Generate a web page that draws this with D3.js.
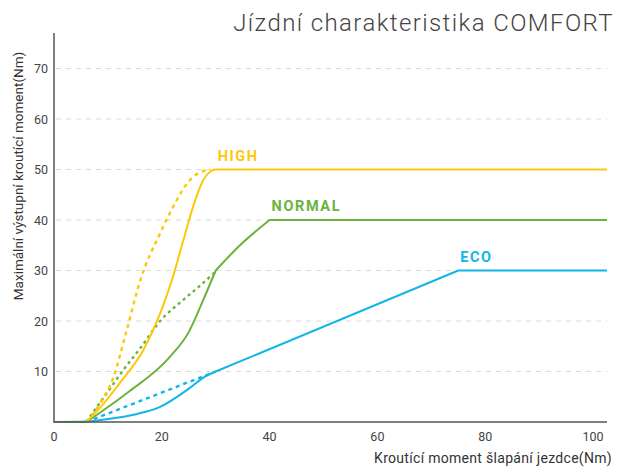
<!DOCTYPE html>
<html>
<head>
<meta charset="utf-8">
<script src="https://cdn.jsdelivr.net/npm/d3@7/dist/d3.min.js"></script>
<style>
  html, body { margin: 0; padding: 0; background: #fff; }
  svg { display: block; }
  text { font-family: Roboto, "DejaVu Sans", sans-serif; }
</style>
</head>
<body>
<svg id="chart" width="619" height="467"></svg>
<script>
// Torque curves per assist mode: [rider torque Nm, motor output Nm]
const highSolid = [[6,0],[9,3.4],[12.2,7.7],[16.6,14.3],[19.7,21.5],[22,28.5],[24,36],[25.8,42.6],[27.7,47.9],[29,49.6],[30,50],[102.6,50]];
const highDashed = [[6,0],[8.5,3.6],[11,8.8],[13.5,18.2],[16,28],[19.7,37.4],[22.1,42.6],[25.2,47.9],[28,49.8],[29,50]];
const normalSolid = [[0,0],[6,0],[13.5,5.7],[21.5,12.9],[25,17.8],[27.7,24.2],[30,30],[34.5,35],[40,40],[102.6,40]];
const normalDashed = [[6,0],[7.3,2],[10,6],[13,10.5],[16,14.6],[19.7,20],[24,24.2],[27,26.9],[30,29.8]];
const ecoSolid = [[0,0],[5,0.05],[10,0.6],[15,1.5],[19.7,3],[25,6.6],[28,9],[30,10],[75,30],[102.6,30]];
const ecoDashed = [[6,0],[30,10]];

// x values where a curve changes character (drawn as separate smooth pieces)
const highBreaks = [];
const normalBreaks = [6, 30, 40];
const ecoBreaks = [30, 75];

const xTicks = [0, 20, 40, 60, 80, 100];
const yTicks = [10, 20, 30, 40, 50, 60, 70];

const modeLabels = [
  { name: "HIGH",   at: [30, 50] },
  { name: "NORMAL", at: [40, 40] },
  { name: "ECO",    at: [75, 30] }
];

const colors = { HIGH: "#fdc80a", NORMAL: "#6cb33e", ECO: "#12b5e8" };

const svg = d3.select("#chart");
const x = d3.scaleLinear().domain([0, 100]).range([54, 593]);
const y = d3.scaleLinear().domain([0, 70]).range([422, 68.5]);
const xEnd = x(102.6);

// horizontal dashed gridlines
svg.append("g").selectAll("line").data(yTicks).join("line")
  .attr("x1", x(0) + 2).attr("x2", xEnd)
  .attr("y1", d => y(d)).attr("y2", d => y(d))
  .attr("stroke", "#dcdcdc").attr("stroke-width", 1)
  .attr("stroke-dasharray", "5,5");

// tick labels
svg.append("g").selectAll("text").data(yTicks).join("text")
  .attr("x", 48).attr("y", d => y(d) + 4.5)
  .attr("text-anchor", "end")
  .attr("font-size", 12.5).attr("fill", "#444")
  .text(d => d);

svg.append("g").selectAll("text").data(xTicks).join("text")
  .attr("x", d => x(d)).attr("y", 441)
  .attr("text-anchor", "middle")
  .attr("font-size", 12.5).attr("fill", "#444")
  .text(d => d);

const smooth = d3.line().x(d => x(d[0])).y(d => y(d[1])).curve(d3.curveMonotoneX);

// Each piece between breaks is drawn smooth; pieces are joined into one path.
function drawSeries(data, color, dashed, breaks = []) {
  const pieces = [];
  let start = 0;
  data.forEach((p, i) => {
    if (i > 0 && (breaks.includes(p[0]) || i === data.length - 1)) {
      pieces.push(data.slice(start, i + 1));
      start = i;
    }
  });
  const d = pieces.map((seg, i) => {
    const s = smooth(seg);
    return i === 0 ? s : s.replace(/^M[^LC]*/, "");
  }).join("");
  svg.append("path")
    .attr("d", d)
    .attr("fill", "none")
    .attr("stroke", color)
    .attr("stroke-width", dashed ? 2.4 : 2)
    .attr("stroke-linecap", "butt")
    .attr("stroke-linejoin", "round")
    .attr("stroke-dasharray", dashed ? (color === colors.NORMAL ? "3,3.5" : "4,4") : null);
}

drawSeries(ecoDashed, colors.ECO, true);
drawSeries(normalDashed, colors.NORMAL, true);
drawSeries(highDashed, colors.HIGH, true);
drawSeries(ecoSolid, colors.ECO, false, ecoBreaks);
drawSeries(normalSolid, colors.NORMAL, false, normalBreaks);
drawSeries(highSolid, colors.HIGH, false, highBreaks);

// axes
svg.append("line")
  .attr("x1", x(0)).attr("x2", x(0)).attr("y1", 33).attr("y2", y(0) + 0.75)
  .attr("stroke", "#555").attr("stroke-width", 1.5);
svg.append("line")
  .attr("x1", x(0)).attr("x2", xEnd).attr("y1", y(0)).attr("y2", y(0))
  .attr("stroke", "#555").attr("stroke-width", 1.5);

// mode labels
svg.append("g").selectAll("text").data(modeLabels).join("text")
  .attr("x", d => x(d.at[0]) + 2)
  .attr("y", d => y(d.at[1]) - 9)
  .attr("font-size", 14.5).attr("font-weight", "bold")
  .attr("letter-spacing", 1.6)
  .attr("fill", d => colors[d.name])
  .text(d => d.name);

// titles
svg.append("text")
  .attr("x", 614).attr("y", 31)
  .attr("text-anchor", "end")
  .attr("font-size", 24).attr("font-weight", 300).attr("fill", "#444")
  .attr("letter-spacing", 1.4)
  .text("Jízdní charakteristika COMFORT");

svg.append("text")
  .attr("x", 612).attr("y", 463)
  .attr("text-anchor", "end")
  .attr("font-size", 14).attr("fill", "#333")
  .attr("letter-spacing", 0.3)
  .text("Kroutící moment šlapání jezdce(Nm)");

svg.append("text")
  .attr("transform", "translate(23,176) rotate(-90)")
  .attr("text-anchor", "middle")
  .attr("font-size", 13.5).attr("fill", "#333")
  .text("Maximální výstupní kroutící moment(Nm)");
</script>
</body>
</html>
